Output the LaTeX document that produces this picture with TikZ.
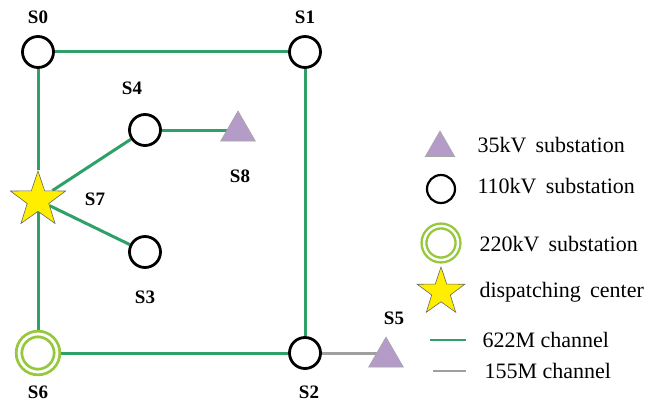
\documentclass[tikz,border=0pt]{standalone}
\usepackage{fontspec}
\setmainfont{Liberation Serif}
\usetikzlibrary{shapes.geometric,backgrounds}
\definecolor{linkgreen}{RGB}{46,160,104}
\definecolor{limeg}{RGB}{150,200,60}
\definecolor{lilac}{RGB}{180,155,200}
\definecolor{staryellow}{RGB}{255,238,0}
\tikzset{
  sub110/.style={circle,draw=black,line width=2.8pt,minimum size=31pt,inner sep=0pt},
  sub220/.style={circle,draw=limeg,line width=2.8pt,double=white,double distance=2.8pt,minimum size=38pt,inner sep=0pt},
  sub35/.style={regular polygon,regular polygon sides=3,fill=lilac,draw=gray!70,line width=0.6pt,minimum size=40pt,inner sep=0pt},
  center/.style={star,star points=5,star point ratio=2.55,fill=staryellow,draw=gray!80!black,line width=0.6pt,minimum size=58pt,inner sep=0pt},
  lab/.style={font=\fontsize{19}{19}\selectfont\bfseries},
  leg/.style={font=\fontsize{22}{22}\selectfont,anchor=west},
  ch622/.style={linkgreen,line width=3pt},
  ch155/.style={gray!75,line width=3pt}
}
\begin{document}
\begin{tikzpicture}[x=1pt,y=-1pt]
\useasboundingbox (0,0) rectangle (653,404);
% stations
\node[sub110] (s0) at (38,52) {};
\node[sub110] (s1) at (305,52) {};
\node[sub110] (s2) at (305,353) {};
\node[sub110] (s3) at (145,252) {};
\node[sub110] (s4) at (145,130) {};
\node[sub35] (s5) at (386,357) {};
\node[sub220] (s6) at (38,353) {};
\node[center] (s7) at (38,200) {};
\node[sub35] (s8) at (238,131) {};
% channels
\begin{scope}[on background layer]
\draw[ch622] (s0) -- (s1);
\draw[ch622] (s1) -- (s2);
\draw[ch622] (s2) -- (s6);
\draw[ch622] (s6) -- (s7);
\draw[ch622] (s7) -- (s0);
\draw[ch622] (s7) -- (s4);
\draw[ch622] (s7) -- (s3);
\draw[ch622] (s4) -- (s4 -| s8);
\draw[ch155] (s2) -- (s2 -| s5);
\end{scope}
% labels
\node[lab] (l0) at (38,17) {S0};
\node[lab] (l1) at (305,17) {S1};
\node[lab] (l2) at (309,392) {S2};
\node[lab] (l3) at (145,297) {S3};
\node[lab] (l4) at (132,88) {S4};
\node[lab] (l5) at (394,318) {S5};
\node[lab] (l6) at (38,392) {S6};
\node[lab] (l7) at (95,199) {S7};
\node[lab] (l8) at (240,176) {S8};
% legend
\node[sub35,minimum size=34pt] (k1) at (440,148) {};
\node[sub110,line width=2.2pt,minimum size=28pt] (k2) at (441,189) {};
\node[sub220,line width=2.4pt,double distance=2.4pt,minimum size=34pt] (k3) at (441,243) {};
\node[center,minimum size=50pt] (k4) at (441,292) {};
\coordinate (k5a) at (430,340);
\coordinate (k5b) at (466,340);
\coordinate (k6a) at (433,371);
\coordinate (k6b) at (466,371);
\draw[linkgreen,line width=1.4pt] (k5a) -- (k5b);
\draw[gray!75,line width=2.2pt] (k6a) -- (k6b);
\node[leg] (t1) at (474,145) {35kV\,\ substation};
\node[leg] (t2) at (474,186) {110kV\,\ substation};
\node[leg] (t3) at (476,244) {220kV\,\ substation};
\node[leg] (t4) at (476,292) {dispatching\,\ center};
\node[leg] (t5) at (479,340) {622M channel};
\node[leg] (t6) at (481,371) {155M channel};
\end{tikzpicture}
\end{document}
